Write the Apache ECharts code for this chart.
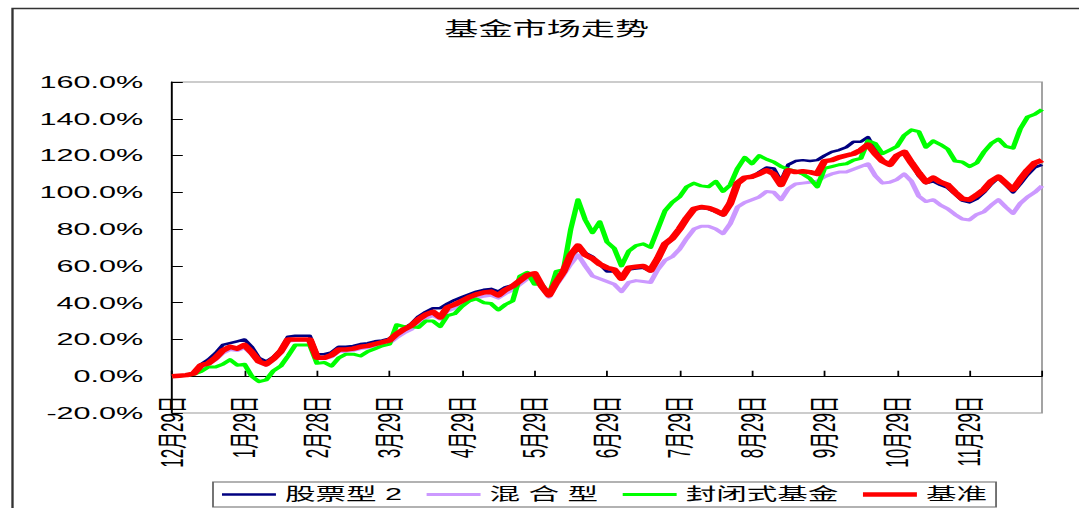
<!DOCTYPE html>
<html>
<head>
<meta charset="utf-8">
<script src="https://cdn.jsdelivr.net/npm/echarts@6/dist/echarts.min.js"></script>
<style>
html,body{margin:0;padding:0;background:#fff;overflow:hidden;}
#wrap{width:1079px;height:508px;overflow:hidden;position:relative;background:#fff;}
#chart{width:600px;height:508px;transform:scaleX(1.798333);transform-origin:0 0;}
</style>
</head>
<body>
<div id="wrap"><div id="chart"></div></div>
<script>
// ---- data ----
const titleText = '基金市场走势';
const seriesNames = ['股票型 2', '混 合 型', '封闭式基金', '基准'];
const tickLabels = ['12月29日','1月29日','2月28日','3月29日','4月29日','5月29日','6月29日','7月29日','8月29日','9月29日','10月29日','11月29日'];
const yTicks = { min: -20, max: 160, step: 20 };

const stock2 = [
0, 0.3, 0.6, 1.5, 6.5, 9, 12.5, 17, 18, 19, 20,
16, 10, 8, 10.5, 14.5, 21.5, 22, 22, 22, 12,
12, 13, 16, 16, 16.5, 17.5, 18, 19, 19.5, 20.5,
23.5, 26, 28.5, 32.5, 35, 37, 37, 39.5, 41.5, 43,
44.5, 46, 47, 47.5, 46, 48.5, 49.5, 52, 55, 55,
50, 45, 51, 57, 65, 69, 67, 65, 61, 57,
57, 53, 58, 58.5, 59, 57, 63, 71, 74.5, 79.5,
85.5, 90.5, 91.5, 91, 89.5, 87.5, 93.5, 104.5, 108, 108,
111, 113.5, 113, 106, 115, 117, 117.5, 117, 117.5, 120,
122, 123, 124.5, 127.5, 127.5, 130, 123, 117, 115, 120,
122, 116, 109, 105, 106, 104, 102.5, 99, 95.5, 94.5,
96.5, 100, 104.5, 108, 104, 100, 104.5, 109.5, 113.5, 115
];
const mixed = [
0, 0.2, 0.5, 1.2, 5, 6.5, 9, 12.5, 14.5, 14, 15.5,
12, 7.5, 6, 9, 12.5, 19, 19.5, 19.5, 19.5, 9.5,
9.5, 10.5, 13.5, 13.5, 14, 15, 15.5, 16.5, 17, 18,
21, 23.5, 25.5, 29, 31.5, 33, 31, 35.5, 37, 39,
41, 42.5, 43.5, 44, 42.5, 45, 47, 50, 53, 54,
48, 43, 49.5, 55, 61, 66, 60, 54.5, 53, 51.5,
50, 46, 51, 52, 51.5, 51, 58, 63, 65, 69,
75, 80, 81.5, 81.5, 80, 77.5, 83, 92, 94.5, 96,
97.5, 100.5, 100, 96, 102, 104.5, 105, 105.5, 106, 108.5,
110, 111, 111, 112.5, 114, 115.5, 109, 105, 105.5, 107,
110, 106, 98, 95, 96, 93, 91, 88, 85.5, 85,
88, 89.5, 93, 96, 92, 88.5, 94, 97.5, 100, 103.5
];
const closedEnd = [
0, 0.2, 0.5, 1, 2.5, 5, 5, 6.5, 9, 6, 6.5,
0, -3, -2, 3, 5.5, 11, 17, 17, 17, 7,
7.5, 5.5, 10, 12, 12, 11, 13.5, 15, 16.5, 17.5,
28, 27, 27, 26.5, 30, 30, 27, 33, 34, 38,
41, 42, 40, 39.5, 36, 39, 41, 54.5, 56.5, 50,
50, 44, 57, 58, 80, 96, 85, 78, 84, 73,
69.5, 60, 68, 71, 72, 70, 80, 90, 94.5, 97.5,
103, 105, 103.5, 103, 106, 100.5, 104, 113, 119, 115.5,
120, 118, 116.5, 114, 112.5, 111.5, 110, 107.5, 103, 113,
114, 115, 115.5, 117.5, 118.5, 128, 126.5, 121, 123, 125,
131, 134, 133, 124.5, 128, 126, 123.5, 117, 116.5, 114,
116, 122, 126.5, 129, 125, 124, 134.5, 141, 142.5, 145
];
const benchmark = [
0, 0.3, 0.6, 1.5, 6, 7, 10, 14, 16, 15, 17,
13, 8, 6.5, 9.5, 13.5, 20, 20, 20, 20, 10,
10, 11.5, 14.5, 14.5, 15, 16, 16.5, 17.5, 18.5, 19.5,
23, 25.5, 27.5, 31, 33.5, 35, 32, 37.5, 39, 41,
43, 44.5, 45.5, 46, 44, 47, 49, 52, 55, 56,
49, 44, 51, 57, 66, 71, 66, 64, 61, 59,
58, 53, 59, 59.5, 60, 57.5, 64, 72, 75, 80,
86, 91, 92, 91.5, 90, 88, 94, 105, 108, 108.5,
110, 112, 110, 104, 112, 111, 111.5, 111, 110, 117,
117.5, 119, 120, 121, 123, 126, 121, 117, 115, 120,
122, 116, 110.5, 105.5, 108, 105.5, 104, 100, 96.5, 96,
98.5, 101.5, 106, 108.5, 105, 101.5, 107, 112, 116, 117.5
];
const pointsPerMonth = 10;

// ---- chart ----
const SX = 1079 / 600;
const FONT = "'Liberation Sans','Noto Sans CJK SC',sans-serif";
const days = stock2.map((_, i) => String(i));
const colors = ['#000080', '#CC99FF', '#00FF00', '#FF0000'];
const widths = [2.5, 3, 3, 4.5];

const chart = echarts.init(document.getElementById('chart'), null, { renderer: 'svg', width: 600, height: 508 });

const mk = (k, data) => ({
  name: seriesNames[k], type: 'line', data, symbol: 'none', showSymbol: false,
  lineStyle: { color: colors[k], width: widths[k], join: 'round' }, itemStyle: { color: colors[k] },
  emphasis: { disabled: true }, animation: false
});

chart.setOption({
  animation: false,
  textStyle: { fontFamily: FONT },
  title: {
    text: titleText, left: 546.7 / SX, top: 20, textAlign: 'center', padding: 0,
    textStyle: { fontFamily: FONT, fontSize: 19, fontWeight: 'normal', color: '#000' }
  },
  graphic: [{
    type: 'rect', left: 8 / SX, top: 6, silent: true,
    shape: { width: 700, height: 600 },
    style: { fill: 'none', stroke: '#333', lineWidth: 1.3 }
  }],
  legend: {
    data: seriesNames.map((n, k) => ({
      name: n,
      icon: 'path://M0,0H30V' + widths[k] + 'H0Z',
      itemStyle: { color: colors[k], borderWidth: 0 }
    })),
    left: 213 / SX, top: 482, orient: 'horizontal', symbolKeepAspect: true,
    padding: [4, 5], itemGap: 13.6, itemWidth: 30, itemHeight: 12,
    borderColor: '#666', borderWidth: 1, backgroundColor: '#fff',
    textStyle: { fontFamily: FONT, fontSize: 17, color: '#000' }
  },
  grid: {
    left: 172 / SX, right: 600 - 1042 / SX, top: 82, bottom: 95,
    show: true, borderColor: '#9a9a9a', borderWidth: 1, backgroundColor: '#fff'
  },
  xAxis: {
    type: 'category', data: days, boundaryGap: false,
    axisLine: { onZero: true, lineStyle: { color: '#000', width: 1 } },
    axisTick: { show: true, inside: true, length: 5.5, interval: pointsPerMonth - 1, lineStyle: { color: '#000' } },
    axisLabel: {
      interval: pointsPerMonth - 1, rotate: 90, margin: -17, fontSize: 17, color: '#000', fontFamily: FONT,
      formatter: (v, i) => { const k = Math.round(i / pointsPerMonth); return (i % pointsPerMonth === 0 && tickLabels[k]) ? tickLabels[k] : ''; }
    },
    splitLine: { show: false }
  },
  yAxis: {
    type: 'value', min: yTicks.min, max: yTicks.max, interval: yTicks.step,
    axisLine: { show: true, lineStyle: { color: '#000', width: 1 } },
    axisTick: { show: true, inside: true, length: 6, lineStyle: { color: '#000' } },
    axisLabel: { formatter: v => v.toFixed(1) + '%', fontSize: 17, color: '#000', margin: 16, fontFamily: FONT },
    splitLine: { show: false }
  },
  series: [
    mk(0, stock2),
    mk(1, mixed),
    mk(2, closedEnd),
    mk(3, benchmark)
  ]
});
</script>
</body>
</html>
